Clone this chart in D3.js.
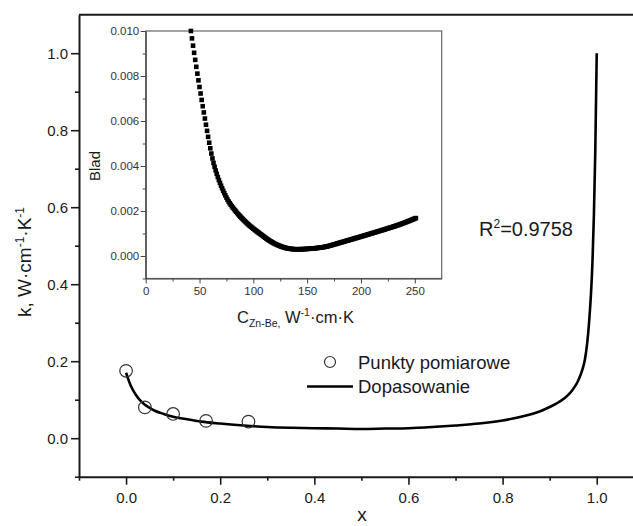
<!DOCTYPE html>
<html><head><meta charset="utf-8">
<script src="https://cdn.jsdelivr.net/npm/d3@7"></script>
<style>
html,body{margin:0;padding:0;background:#fff;}
svg{display:block;font-family:"Liberation Sans",Arial,Helvetica,sans-serif;}
</style></head><body>
<svg id="chart" width="633" height="526"></svg>
<script>
// Measured thermal conductivity points
const pointX = [0, 0.04, 0.10, 0.17, 0.26];
const pointK = [0.175, 0.080, 0.063, 0.045, 0.043];

// Fitted curve k(x)
const fitX = [0.000, 0.005, 0.010, 0.020, 0.030, 0.040, 0.050, 0.060, 0.080, 0.100,
              0.130, 0.160, 0.200, 0.250, 0.300, 0.350, 0.400, 0.450, 0.500, 0.550,
              0.600, 0.650, 0.700, 0.750, 0.800, 0.850, 0.880, 0.900, 0.920, 0.940,
              0.950, 0.960, 0.970, 0.975, 0.980, 0.984, 0.988, 0.991, 0.994, 0.997, 1.000];
const fitK = [0.170, 0.152, 0.136, 0.114, 0.098, 0.087, 0.079, 0.072, 0.063, 0.056,
              0.049, 0.043, 0.038, 0.033, 0.029, 0.027, 0.026, 0.025, 0.024, 0.025,
              0.026, 0.029, 0.033, 0.038, 0.046, 0.059, 0.070, 0.081, 0.094, 0.113,
              0.128, 0.148, 0.180, 0.205, 0.250, 0.305, 0.380, 0.460, 0.580, 0.750, 1.000];

// Inset: fit error versus C(Zn-Be), one value per unit of C (C = 42 ... 251), in 1e-4 units
const bladC = d3.range(42, 252);
const blad1e4 = [
  100.0, 96.72, 93.49, 90.31, 87.18, 84.09, 81.05, 78.06, 75.12, 72.22,   // 42-51
  69.37, 66.57, 63.81, 61.10, 58.35, 55.62, 52.95, 50.35, 47.87, 45.53,   // 52-61
  43.36, 41.40, 39.65, 38.03, 36.51, 35.08, 33.73, 32.46, 31.25, 30.10,   // 62-71
  29.00, 27.94, 26.93, 25.97, 25.07, 24.24, 23.48, 22.79, 22.13, 21.49,   // 72-81
  20.87, 20.26, 19.67, 19.10, 18.55, 18.01, 17.49, 16.98, 16.48, 15.99,   // 82-91
  15.52, 15.05, 14.60, 14.16, 13.73, 13.32, 12.92, 12.53, 12.14, 11.77,   // 92-101
  11.40, 11.04, 10.68, 10.32, 9.97, 9.61, 9.25, 8.88, 8.52, 8.16,         // 102-111
  7.81, 7.47, 7.15, 6.83, 6.53, 6.24, 5.97, 5.70, 5.45, 5.21,             // 112-121
  4.99, 4.77, 4.57, 4.38, 4.20, 4.04, 3.88, 3.74, 3.61, 3.50,             // 122-131
  3.39, 3.30, 3.22, 3.15, 3.10, 3.06, 3.02, 3.01, 3.00, 3.00,             // 132-141
  3.01, 3.01, 3.02, 3.04, 3.05, 3.07, 3.10, 3.12, 3.15, 3.18,             // 142-151
  3.22, 3.25, 3.29, 3.34, 3.38, 3.43, 3.49, 3.54, 3.60, 3.66,             // 152-161
  3.73, 3.79, 3.86, 3.94, 4.02, 4.11, 4.21, 4.32, 4.44, 4.57,             // 162-171
  4.71, 4.85, 4.99, 5.13, 5.27, 5.41, 5.55, 5.69, 5.83, 5.97,             // 172-181
  6.11, 6.25, 6.39, 6.53, 6.67, 6.81, 6.95, 7.09, 7.23, 7.37,             // 182-191
  7.51, 7.65, 7.79, 7.93, 8.07, 8.21, 8.35, 8.49, 8.63, 8.77,             // 192-201
  8.91, 9.05, 9.20, 9.34, 9.49, 9.63, 9.78, 9.92, 10.07, 10.21,           // 202-211
  10.36, 10.50, 10.65, 10.79, 10.94, 11.08, 11.23, 11.37, 11.52, 11.67,   // 212-221
  11.82, 11.97, 12.12, 12.27, 12.42, 12.57, 12.72, 12.87, 13.02, 13.18,   // 222-231
  13.34, 13.50, 13.66, 13.83, 14.00, 14.17, 14.35, 14.53, 14.71, 14.89,   // 232-241
  15.08, 15.27, 15.46, 15.65, 15.85, 16.05, 16.25, 16.45, 16.65, 16.85    // 242-251
];
const bladValues = blad1e4.map(v => v * 1e-4);

// Tick values
const mainXTicks = [0, 0.2, 0.4, 0.6, 0.8, 1.0];
const mainXMinor = [-0.1, 0.1, 0.3, 0.5, 0.7, 0.9];
const mainYTicks = [0, 0.2, 0.4, 0.6, 0.8, 1.0];
const mainYMinor = [-0.1, 0.1, 0.3, 0.5, 0.7, 0.9];
const insetXTicks = [0, 50, 100, 150, 200, 250];
const insetXMinor = [25, 75, 125, 175, 225];
const insetYTicks = [0, 0.002, 0.004, 0.006, 0.008, 0.010];
const insetYMinor = [-0.001, 0.001, 0.003, 0.005, 0.007, 0.009];

const legendLabels = ["Punkty pomiarowe", "Dopasowanie"];
const r2Label = "0.9758";

const svg = d3.select("#chart");
const ink = "#1a1a1a";

// ---------- main plot ----------
const x = d3.scaleLinear().domain([-0.1, 1.1]).range([79, 643.8]);
const y = d3.scaleLinear().domain([-0.1, 1.1]).range([476.7, 14.7]);

// top frame
svg.append("line").attr("x1", 79).attr("x2", 640).attr("y1", y(1.1)).attr("y2", y(1.1))
  .attr("stroke", ink).attr("stroke-width", 2);

function styleAxis(g, width) {
  g.select(".domain").attr("stroke", ink).attr("stroke-width", width);
  g.selectAll(".tick line").attr("stroke", ink).attr("stroke-width", 1.6);
  g.selectAll("text").attr("fill", ink);
}

const gx = svg.append("g").attr("transform", `translate(0,${y(-0.1)})`)
  .call(d3.axisBottom(x).tickValues(mainXTicks).tickFormat(d3.format(".1f"))
        .tickSizeInner(8).tickSizeOuter(0).tickPadding(18));
gx.selectAll("text").attr("font-size", 15).attr("font-family", null).attr("dy", "0.05em");
styleAxis(gx, 2);
const gxm = svg.append("g").attr("transform", `translate(0,${y(-0.1)})`)
  .call(d3.axisBottom(x).tickValues(mainXMinor).tickFormat("").tickSizeInner(4).tickSizeOuter(0));
gxm.select(".domain").remove();
gxm.selectAll(".tick line").attr("stroke", ink).attr("stroke-width", 1.6);

const gy = svg.append("g").attr("transform", `translate(${x(-0.1)},0)`)
  .call(d3.axisLeft(y).tickValues(mainYTicks).tickFormat(d3.format(".1f"))
        .tickSizeInner(8).tickSizeOuter(0).tickPadding(3));
gy.selectAll("text").attr("font-size", 15).attr("font-family", null);
styleAxis(gy, 2);
const gym = svg.append("g").attr("transform", `translate(${x(-0.1)},0)`)
  .call(d3.axisLeft(y).tickValues(mainYMinor).tickFormat("").tickSizeInner(4).tickSizeOuter(0));
gym.select(".domain").remove();
gym.selectAll(".tick line").attr("stroke", ink).attr("stroke-width", 1.6);

// axis titles
svg.append("text").attr("x", 362).attr("y", 521).attr("text-anchor", "middle")
  .attr("font-size", 19).attr("fill", ink).text("x");

const yTitle = svg.append("text").attr("transform", "translate(31,262) rotate(-90)")
  .attr("text-anchor", "middle").attr("font-size", 19).attr("fill", ink);
yTitle.append("tspan").text("k, W·cm");
yTitle.append("tspan").attr("dy", -7).attr("font-size", 12).text("-1");
yTitle.append("tspan").attr("dy", 7).text("·K");
yTitle.append("tspan").attr("dy", -7).attr("font-size", 12).text("-1");

// fitted curve
const fitData = fitX.map((v, i) => [v, fitK[i]]);
svg.append("path").datum(fitData)
  .attr("fill", "none").attr("stroke", "#000").attr("stroke-width", 2.6)
  .attr("stroke-linejoin", "round")
  .attr("d", d3.line().x(d => x(d[0])).y(d => y(d[1])).curve(d3.curveMonotoneX));

// measured points
svg.append("g").selectAll("circle").data(pointX.map((v, i) => [v, pointK[i]]))
  .join("circle").attr("cx", d => x(d[0])).attr("cy", d => y(d[1])).attr("r", 6.3)
  .attr("fill", "none").attr("stroke", "#333").attr("stroke-width", 1.2);

// legend
const lg = svg.append("g");
lg.append("circle").attr("cx", 330).attr("cy", 362).attr("r", 5.5)
  .attr("fill", "none").attr("stroke", "#333").attr("stroke-width", 1.2);
lg.append("text").attr("x", 358).attr("y", 369).attr("font-size", 18.5).attr("fill", ink)
  .text(legendLabels[0]);
lg.append("line").attr("x1", 307).attr("x2", 353).attr("y1", 386.5).attr("y2", 386.5)
  .attr("stroke", "#000").attr("stroke-width", 2.6);
lg.append("text").attr("x", 358).attr("y", 393).attr("font-size", 18.5).attr("fill", ink)
  .text(legendLabels[1]);

// R^2 annotation
const r2 = svg.append("text").attr("x", 479).attr("y", 236).attr("font-size", 20).attr("fill", ink);
r2.append("tspan").text("R");
r2.append("tspan").attr("dy", -8).attr("font-size", 12).text("2");
r2.append("tspan").attr("dy", 8).text("=" + r2Label);

// ---------- inset ----------
const ix = d3.scaleLinear().domain([0, 275]).range([145.7, 441.7]);
const iy = d3.scaleLinear().domain([-0.001, 0.010]).range([278.5, 31]);
const frame = "#666";

svg.append("rect").attr("x", ix(0)).attr("y", iy(0.010))
  .attr("width", ix(275) - ix(0)).attr("height", iy(-0.001) - iy(0.010))
  .attr("fill", "#fff").attr("stroke", frame).attr("stroke-width", 1.2);

function styleInset(g) {
  g.select(".domain").attr("stroke", "#444").attr("stroke-width", 1.2);
  g.selectAll(".tick line").attr("stroke", "#444").attr("stroke-width", 1);
  g.selectAll("text").attr("fill", "#333").attr("font-size", 11.5).attr("font-family", null);
}
const ixa = svg.append("g").attr("transform", `translate(0,${iy(-0.001)})`)
  .call(d3.axisBottom(ix).tickValues(insetXTicks).tickFormat(d3.format("d"))
        .tickSizeInner(5).tickSizeOuter(0).tickPadding(3));
styleInset(ixa);
const ixm = svg.append("g").attr("transform", `translate(0,${iy(-0.001)})`)
  .call(d3.axisBottom(ix).tickValues(insetXMinor).tickFormat("").tickSizeInner(3).tickSizeOuter(0));
ixm.select(".domain").remove();
ixm.selectAll(".tick line").attr("stroke", "#444");

const iya = svg.append("g").attr("transform", `translate(${ix(0)},0)`)
  .call(d3.axisLeft(iy).tickValues(insetYTicks).tickFormat(d3.format(".3f"))
        .tickSizeInner(5).tickSizeOuter(0).tickPadding(1.5));
styleInset(iya);
const iym = svg.append("g").attr("transform", `translate(${ix(0)},0)`)
  .call(d3.axisLeft(iy).tickValues(insetYMinor).tickFormat("").tickSizeInner(3).tickSizeOuter(0));
iym.select(".domain").remove();
iym.selectAll(".tick line").attr("stroke", "#444");

// inset titles
svg.append("text").attr("transform", "translate(100,166) rotate(-90)")
  .attr("text-anchor", "middle").attr("font-size", 15).attr("fill", ink).text("Blad");

const ixt = svg.append("text").attr("x", 237).attr("y", 323).attr("font-size", 16.5).attr("fill", ink);
ixt.append("tspan").text("C");
ixt.append("tspan").attr("dy", 4).attr("font-size", 10.5).text("Zn-Be,");
ixt.append("tspan").attr("dy", -4).text(" W");
ixt.append("tspan").attr("dy", -7).attr("font-size", 10.5).text("-1");
ixt.append("tspan").attr("dy", 7).text("·cm·K");

// error markers
const sq = 4.6;
svg.append("g").selectAll("rect").data(bladC.map((c, i) => [c, bladValues[i]]))
  .join("rect")
  .attr("x", d => ix(d[0]) - sq / 2).attr("y", d => iy(d[1]) - sq / 2)
  .attr("width", sq).attr("height", sq).attr("fill", "#000");
</script>
</body></html>
